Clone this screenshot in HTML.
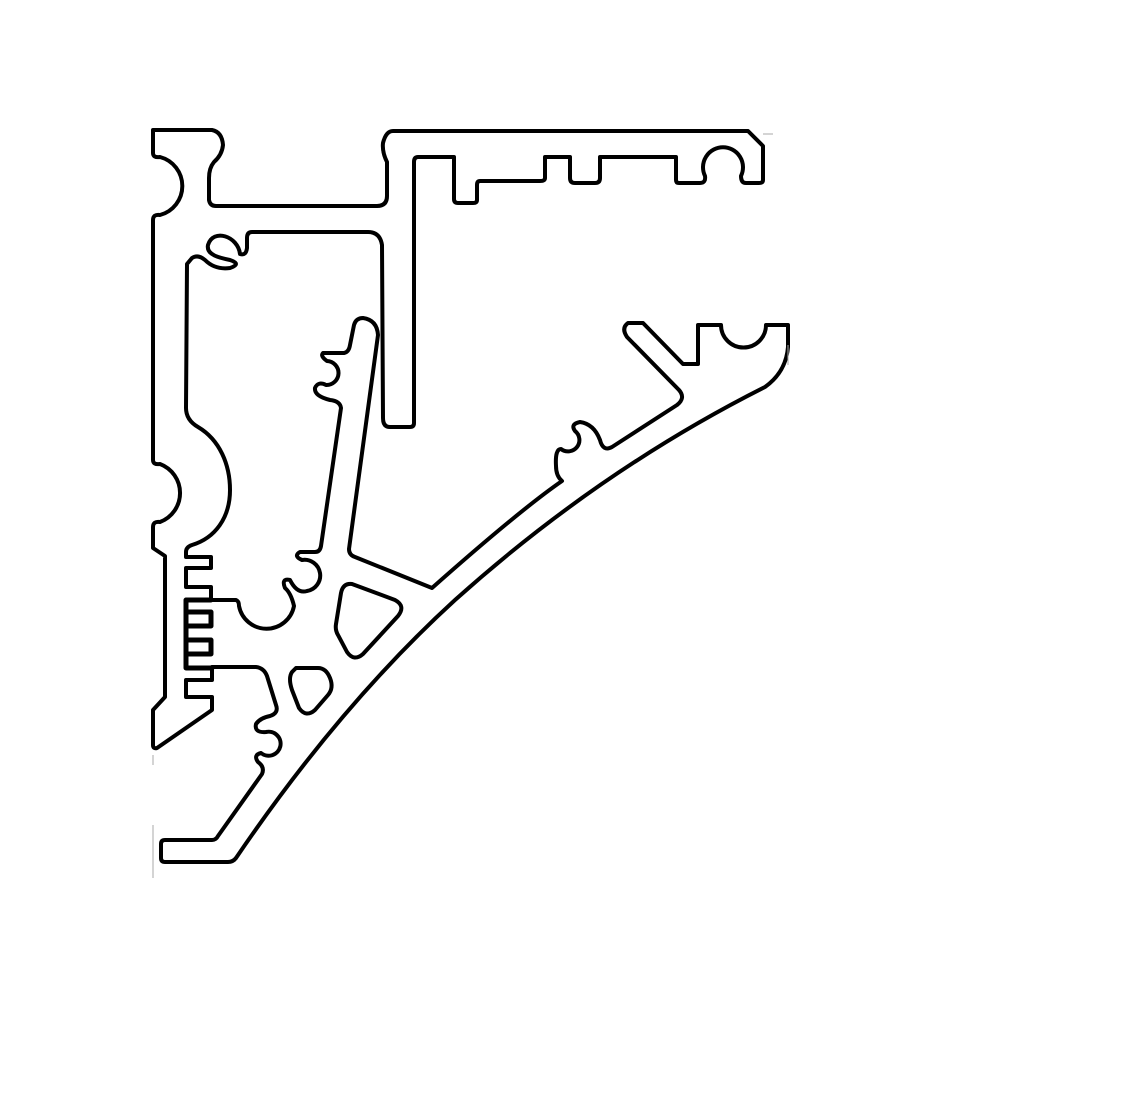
<!DOCTYPE html>
<html><head><style>html,body{margin:0;padding:0;background:#fff}svg{display:block}</style></head>
<body>
<svg width="1125" height="1103" viewBox="0 0 1125 1103" xmlns="http://www.w3.org/2000/svg">
<g fill="none" stroke="#000" stroke-width="4" stroke-linejoin="round" stroke-linecap="round">
<path d="M153,130 L212,130 Q222,132 223,145 Q222,155 214,162 Q209,168 209,178 L209,200 Q210,206 216,206 L377,206 Q387,206 387,196 L387,162 Q382,152 383,143 Q386,131 393,131 L748,131 L763,146 L763,180 Q763,183 759,183 L746,183 Q741,183 741,176 A20,20 0 1 0 705,176 Q706,183 700,183 L679,183 Q676,183 676,180 L676,157 L600,157 L600,178 Q600,183 595,183 L575,183 Q570,183 570,178 L570,157 L545,157 L545,178 Q545,181 540,181 L480,181 Q477,181 477,185 L477,200 Q477,203 473,203 L458,203 Q454,203 454,199 L454,157 L418,157 Q414,157 414,162 L414,423 Q414,427 410,427 L390,427 Q383,427 383,418 L382,245 Q380,232 368,232 L252,232 Q247,232 247,238 L247,248 Q246,256 240,254 C238,236 213,228 208,245 C206,255 220,258 230,260 Q242,264 230,268 Q215,270 205,260 Q198,254 192,258 L187,264 L186,408 Q186,420 198,427 C220,440 230,465 230,490 C230,518 215,538 192,545 Q186,547 186,552 L186,557 L211,557 L211,568 L186,568 L186,587 L211,587 L211,600 L236,600 Q239,601 239,606 A28,28 0 0 0 294,606 Q291,593 285,588 Q281,578 290,580 Q297,594 307,591 A12,12 0 0 0 302,560 Q293,556 300,552 L315,552 Q320,552 321,546 L341,408 Q340,401 330,400 Q314,396 315,388 Q318,381 326,385 A11,11 0 1 0 327,361 Q320,356 323,353 L344,353 Q349,352 350,345 L354,325 Q356,318 363,318 Q377,320 378,335 L349,549 Q349,555 355,557 L432,588 Q520,510 562,481 Q556,476 556,466 Q555,449 561,449 A10,10 0 1 0 575,431 Q570,424 580,422 Q594,424 600,440 Q603,452 612,447 L677,405 Q686,398 679,390 L627,337 Q621,328 628,323 L643,323 L683,364 L698,364 L698,325 L721,325 A22,22 0 0 0 766,325 L788,325 L788,347 Q786,372 765,387 Q600,470 455,600 Q340,705 236,858 Q233,862 228,862 L165,862 Q161,862 161,858 L161,844 Q161,840 165,840 L212,840 Q216,840 218,836 L262,774 Q265,767 258,762 Q253,755 261,753 A12,12 0 1 0 266,732 Q254,733 256,724 Q260,718 270,716 Q279,713 276,705 L267,676 Q264,668 256,667 L212,667 L212,680 L186,680 L186,697 L212,697 L212,710 L157,748 Q153,749 153,745 L153,710 L165,697 L165,556 L153,548 L153,527 Q153,521 160,522 A31,31 0 0 0 160,464 Q153,465 153,460 L153,220 Q153,214 160,215 A30,30 0 0 0 160,157 Q153,158 153,153 Z"/>
<path d="M352,584 L395,600 Q406,606 398,616 L363,654 Q354,662 347,652 L338,635 Q335,630 336,624 L341,593 Q343,583 352,584 Z"/>
<path d="M296,668 L318,668 Q326,668 330,678 Q334,688 328,695 L315,710 Q306,718 299,708 L292,690 Q288,678 292,672 Z"/>
<path d="M211,600 L186,600 L186,668 L212,668 M186,612 L211,612 L211,626 L186,626 M186,640 L211,640 L211,654 L186,654" stroke-width="5"/>
</g>
<g stroke="#aaa" stroke-width="1">
<line x1="763" y1="134" x2="773" y2="134"/>
<line x1="153" y1="755" x2="153" y2="765"/>
<line x1="153" y1="825" x2="153" y2="878"/>
<line x1="788" y1="345" x2="788" y2="365"/>
</g>
</svg>
</body></html>
